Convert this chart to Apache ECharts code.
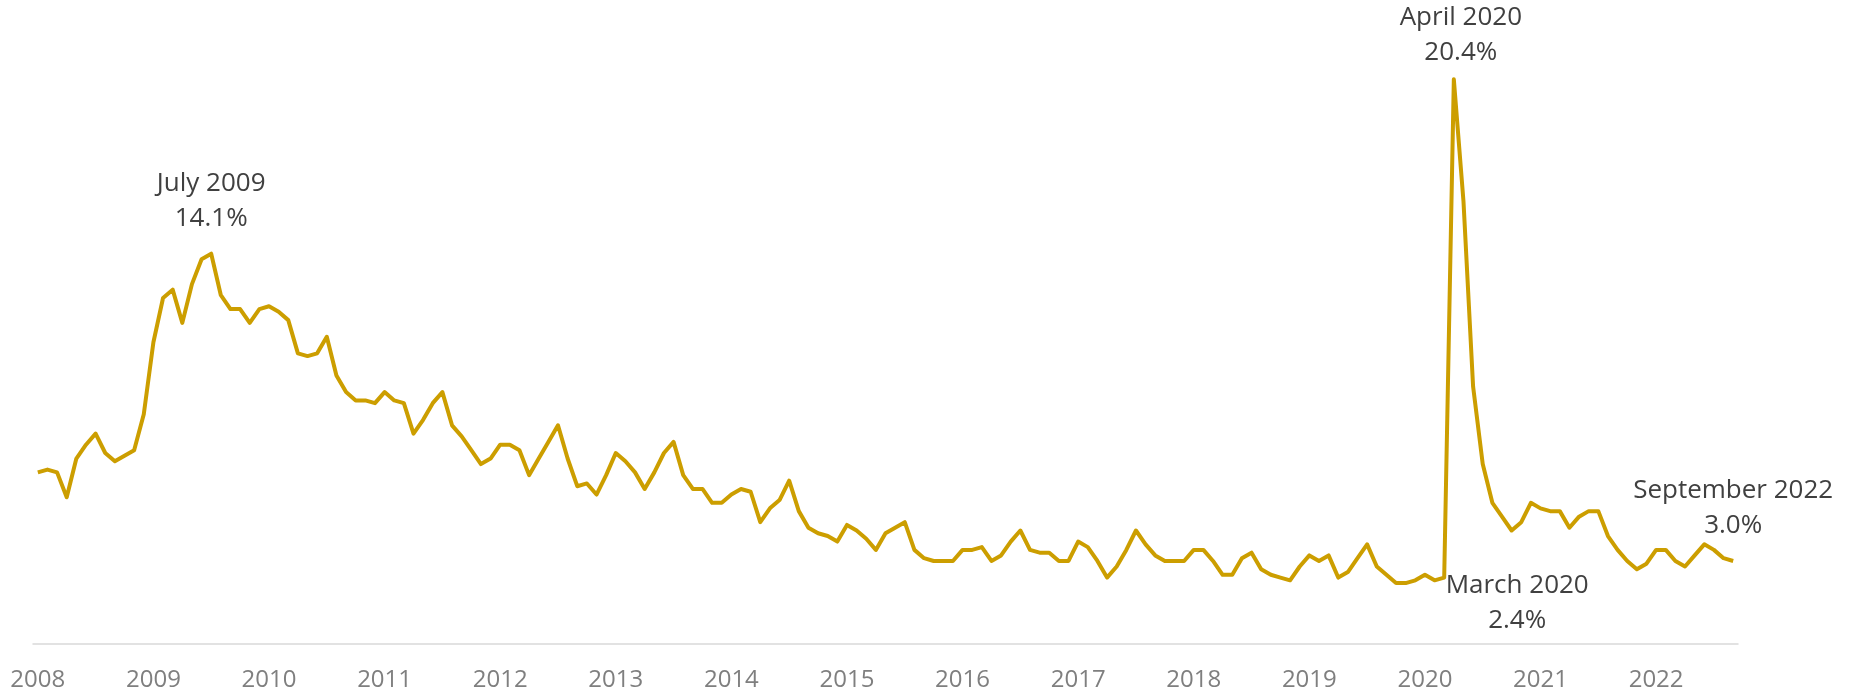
<!DOCTYPE html>
<html>
<head>
<meta charset="utf-8">
<script src="https://cdn.jsdelivr.net/npm/echarts@6/dist/echarts.min.js"></script>
<style>
  html, body { margin: 0; padding: 0; background: #ffffff; }
  #chart { width: 1849px; height: 694px; }
</style>
</head>
<body>
<div id="chart"></div>
<script>
// Year tick labels (one label at January of each year)
const years = ['2008', '2009', '2010', '2011', '2012', '2013', '2014', '2015',
               '2016', '2017', '2018', '2019', '2020', '2021', '2022'];
const monthNames = ['January', 'February', 'March', 'April', 'May', 'June', 'July',
                    'August', 'September', 'October', 'November', 'December'];

// Monthly rate, % (January 2008 – September 2022)
const rate2008 = [6.2, 6.3, 6.2, 5.3, 6.7, 7.2, 7.6, 6.9, 6.6, 6.8, 7.0, 8.3];
const rate2009 = [10.9, 12.5, 12.8, 11.6, 13.0, 13.9, 14.1, 12.6, 12.1, 12.1, 11.6, 12.1];
const rate2010 = [12.2, 12.0, 11.7, 10.5, 10.4, 10.5, 11.1, 9.7, 9.1, 8.8, 8.8, 8.7];
const rate2011 = [9.1, 8.8, 8.7, 7.6, 8.1, 8.7, 9.1, 7.9, 7.5, 7.0, 6.5, 6.7];
const rate2012 = [7.2, 7.2, 7.0, 6.1, 6.7, 7.3, 7.9, 6.7, 5.7, 5.8, 5.4, 6.1];
const rate2013 = [6.9, 6.6, 6.2, 5.6, 6.2, 6.9, 7.3, 6.1, 5.6, 5.6, 5.1, 5.1];
const rate2014 = [5.4, 5.6, 5.5, 4.4, 4.9, 5.2, 5.9, 4.8, 4.2, 4.0, 3.9, 3.7];
const rate2015 = [4.3, 4.1, 3.8, 3.4, 4.0, 4.2, 4.4, 3.4, 3.1, 3.0, 3.0, 3.0];
const rate2016 = [3.4, 3.4, 3.5, 3.0, 3.2, 3.7, 4.1, 3.4, 3.3, 3.3, 3.0, 3.0];
const rate2017 = [3.7, 3.5, 3.0, 2.4, 2.8, 3.4, 4.1, 3.6, 3.2, 3.0, 3.0, 3.0];
const rate2018 = [3.4, 3.4, 3.0, 2.5, 2.5, 3.1, 3.3, 2.7, 2.5, 2.4, 2.3, 2.8];
const rate2019 = [3.2, 3.0, 3.2, 2.4, 2.6, 3.1, 3.6, 2.8, 2.5, 2.2, 2.2, 2.3];
const rate2020 = [2.5, 2.3, 2.4, 20.4, 16.0, 9.3, 6.5, 5.1, 4.6, 4.1, 4.4, 5.1];
const rate2021 = [4.9, 4.8, 4.8, 4.2, 4.6, 4.8, 4.8, 3.9, 3.4, 3.0, 2.7, 2.9];
const rate2022 = [3.4, 3.4, 3.0, 2.8, 3.2, 3.6, 3.4, 3.1, 3.0];

const rates = [].concat(rate2008, rate2009, rate2010, rate2011, rate2012, rate2013,
  rate2014, rate2015, rate2016, rate2017, rate2018, rate2019, rate2020, rate2021, rate2022);

// One category per month, labelled "Month YYYY"
const categories = [];
years.forEach(y => monthNames.forEach(m => categories.push(m + ' ' + y)));
categories.length = rates.length;

// Called-out months
const callouts = ['July 2009', 'March 2020', 'April 2020', 'September 2022'];

// Placement of each call-out relative to its point
const calloutPlacement = {
  'July 2009':      { position: 'top', distance: 18, offset: [0, 0] },
  'April 2020':     { position: 'top', distance: 9, offset: [7, 0] },
  'March 2020':     { position: 'bottom', distance: 0, offset: [73, -9] },
  'September 2022': { position: 'top', distance: 18, offset: [0, 0] }
};

const seriesData = rates.map((v, i) => {
  const name = categories[i];
  if (callouts.indexOf(name) === -1) return v;
  const p = calloutPlacement[name];
  return {
    value: v,
    label: {
      show: true,
      position: p.position,
      distance: p.distance,
      offset: p.offset,
      formatter: name + '\n' + v.toFixed(1) + '%',
      fontFamily: 'Open Sans',
      fontSize: 26,
      lineHeight: 35,
      color: '#404040',
      align: 'center'
    }
  };
});

const chart = echarts.init(document.getElementById('chart'));
chart.setOption({
  animation: false,
  backgroundColor: '#ffffff',
  grid: { left: 33, right: 111, top: 35, bottom: 50, containLabel: false },
  xAxis: {
    type: 'category',
    data: categories,
    boundaryGap: true,
    axisLine: { show: true, lineStyle: { color: '#D9D9D9', width: 1.5 } },
    axisTick: { show: false },
    axisLabel: {
      interval: (index) => index % 12 === 0,
      formatter: (value) => value.split(' ')[1],
      margin: 24,
      fontFamily: 'Open Sans',
      fontSize: 24,
      color: '#7F7F7F'
    },
    splitLine: { show: false }
  },
  yAxis: {
    type: 'value',
    min: 0,
    max: 22,
    show: false,
    splitLine: { show: false }
  },
  series: [{
    type: 'line',
    data: seriesData,
    showSymbol: true,
    showAllSymbol: true,
    symbol: 'circle',
    symbolSize: 0,
    lineStyle: { color: '#CC9E00', width: 4, join: 'round' },
    itemStyle: { color: '#CC9E00' },
    emphasis: { disabled: true },
    silent: true
  }]
});
</script>
</body>
</html>
